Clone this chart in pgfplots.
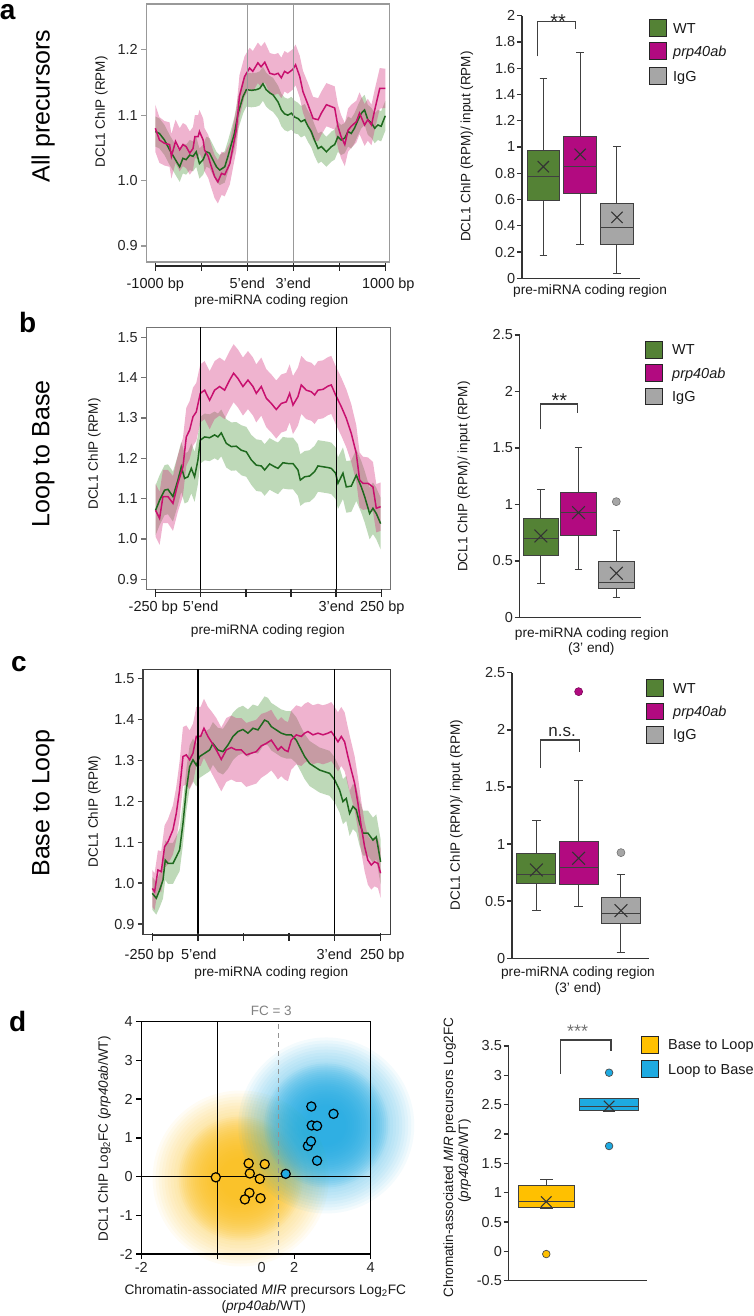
\documentclass[border=0pt]{standalone}
\usepackage{fontspec}
\setmainfont{Liberation Sans}
\usepackage{pgfplots}
\pgfplotsset{compat=1.18}
\usepackage{pgfplotstable}
\usepgfplotslibrary{fillbetween,statistics}

\definecolor{lgreen}{RGB}{30,105,30}
\definecolor{lpink}{RGB}{200,16,110}
\definecolor{bgreen}{RGB}{84,155,69}
\definecolor{bpink}{RGB}{212,55,130}
\definecolor{wt}{RGB}{84,130,53}
\definecolor{prp}{RGB}{178,10,128}
\definecolor{igg}{RGB}{166,166,166}
\definecolor{byel}{RGB}{250,190,30}
\definecolor{bblue}{RGB}{35,170,225}
\definecolor{boxyel}{RGB}{255,192,0}
\definecolor{boxblue}{RGB}{30,170,225}

\newcommand{\fs}[1]{\fontsize{#1}{#1}\selectfont}

\pgfplotsset{
  every axis/.append style={/pgf/number format/assume math mode=true},
  lp/.style={anchor=south west, scale only axis, clip=false, xtick=\empty,
    ytick={0.9,1.0,1.1,1.2,1.3,1.4,1.5}, tick align=outside, major tick length=5pt, tick pos=left,
    yticklabel style={/pgf/number format/.cd, fixed, fixed zerofill, precision=1},
    tick label style={font=\fs{14.5}, text=black!85}},
  bp/.style={anchor=south west, scale only axis, clip=false, axis x line*=bottom, axis y line*=left,
    axis line style={black!80, line width=1.4pt}, xtick=\empty, tick align=outside, major tick length=5pt,
    y tick style={black!80, line width=1.4pt}, tick label style={font=\fs{14.5}, text=black!85},
    yticklabel style={inner sep=1.5pt}, boxplot/draw direction=y},
}

\newcommand{\bandline}[4]{%
 \addplot[draw=none, name path=#4u, forget plot] table[x=x, y expr=\thisrow{y}+\thisrow{e}] {#1};
 \addplot[draw=none, name path=#4l, forget plot] table[x=x, y expr=\thisrow{y}-\thisrow{e}] {#1};
 \addplot[fill=#2, fill opacity=0.38, draw=none, forget plot] fill between[of=#4u and #4l];
 \addplot[#3, line width=1.5pt, forget plot] table[x=x, y=y] {#1};
}
\newcommand{\bx}[8]{%
 \addplot[boxplot prepared={draw position=#1, lower whisker=#2, lower quartile=#3, median=#4, upper quartile=#5, upper whisker=#6, box extend=#7, whisker extend=0.2}, fill=#8, draw=black!75, line width=1pt, forget plot] coordinates {};
}
% soft blob made of stacked translucent discs
\newcommand{\blob}[3]{%
 \pgfplotsinvokeforeach{88,85,82,79,76,73,70,67,64}{\fill[#1, fill opacity=0.05] (axis cs:#2,#3) circle[radius=##1pt];}
 \pgfplotsinvokeforeach{62,60,58,56,54,52,50,48,46,44,42,40,38,36,34,32,30,28,26,24,22,20}{\fill[#1, fill opacity=0.1] (axis cs:#2,#3) circle[radius=##1pt];}
}

% ---------------- data: panel a ----------------
\pgfplotstableread{
x y e
0.00 1.080 0.036
0.09 1.062 0.035
0.20 1.057 0.034
0.31 1.055 0.034
0.35 1.037 0.034
0.44 1.060 0.033
0.53 1.047 0.033
0.60 1.055 0.033
0.67 1.052 0.033
0.75 1.042 0.033
0.82 1.049 0.033
0.86 1.067 0.033
0.93 1.067 0.033
0.96 1.075 0.033
1.04 1.062 0.033
1.07 1.047 0.033
1.15 1.037 0.033
1.22 1.021 0.033
1.29 1.006 0.033
1.36 0.998 0.033
1.44 1.011 0.033
1.51 1.009 0.033
1.62 1.026 0.032
1.69 1.052 0.032
1.76 1.077 0.032
1.83 1.129 0.032
1.94 1.159 0.031
2.05 1.172 0.031
2.12 1.167 0.031
2.23 1.180 0.031
2.30 1.174 0.031
2.38 1.181 0.031
2.49 1.164 0.031
2.59 1.162 0.031
2.67 1.164 0.031
2.74 1.157 0.031
2.81 1.167 0.031
2.88 1.164 0.031
2.99 1.170 0.031
3.05 1.177 0.031
3.14 1.159 0.032
3.21 1.136 0.032
3.32 1.116 0.033
3.43 1.095 0.033
3.54 1.093 0.033
3.61 1.103 0.033
3.72 1.116 0.033
3.83 1.113 0.033
3.90 1.111 0.033
3.97 1.083 0.033
4.04 1.067 0.033
4.12 1.055 0.033
4.19 1.077 0.033
4.26 1.083 0.033
4.37 1.090 0.032
4.44 1.103 0.032
4.55 1.085 0.032
4.62 1.093 0.032
4.70 1.085 0.031
4.77 1.108 0.031
4.88 1.141 0.031
5.00 1.141 0.030
}\tAp
\pgfplotstableread{
x y e
0.00 1.075 0.023
0.09 1.072 0.023
0.20 1.062 0.023
0.31 1.047 0.023
0.42 1.034 0.023
0.53 1.021 0.023
0.60 1.034 0.023
0.67 1.032 0.023
0.75 1.039 0.023
0.82 1.037 0.023
0.89 1.044 0.023
0.96 1.026 0.023
1.04 1.032 0.023
1.11 1.044 0.023
1.18 1.042 0.023
1.25 1.032 0.023
1.33 1.021 0.023
1.40 1.016 0.023
1.51 1.021 0.024
1.58 1.037 0.024
1.65 1.055 0.024
1.72 1.072 0.025
1.80 1.103 0.025
1.91 1.129 0.026
1.98 1.139 0.026
2.09 1.138 0.026
2.20 1.139 0.026
2.27 1.141 0.026
2.34 1.148 0.026
2.41 1.139 0.026
2.49 1.134 0.026
2.56 1.131 0.026
2.67 1.120 0.025
2.74 1.108 0.025
2.81 1.102 0.025
2.88 1.100 0.025
2.96 1.103 0.025
3.03 1.097 0.025
3.10 1.095 0.024
3.17 1.090 0.024
3.25 1.093 0.024
3.32 1.083 0.024
3.39 1.075 0.024
3.46 1.062 0.024
3.54 1.049 0.023
3.61 1.052 0.023
3.72 1.044 0.023
3.83 1.052 0.023
3.90 1.055 0.023
3.97 1.067 0.023
4.04 1.062 0.023
4.12 1.065 0.023
4.19 1.075 0.023
4.26 1.072 0.023
4.33 1.080 0.023
4.41 1.093 0.023
4.48 1.103 0.023
4.55 1.108 0.023
4.62 1.093 0.023
4.70 1.088 0.023
4.77 1.080 0.023
4.84 1.085 0.023
4.91 1.083 0.023
5.00 1.099 0.023
}\tAg
% ---------------- data: panel b ----------------
\pgfplotstableread{
x y e
0.000 1.071 0.066
0.089 1.051 0.066
0.163 1.105 0.066
0.274 1.105 0.066
0.385 1.088 0.068
0.495 1.138 0.070
0.606 1.179 0.072
0.680 1.253 0.072
0.754 1.270 0.072
0.828 1.303 0.072
0.901 1.315 0.072
0.990 1.361 0.072
1.086 1.369 0.072
1.197 1.344 0.072
1.307 1.369 0.072
1.418 1.378 0.072
1.529 1.369 0.072
1.640 1.394 0.072
1.728 1.411 0.072
1.824 1.398 0.072
1.935 1.378 0.072
2.046 1.394 0.072
2.157 1.378 0.072
2.230 1.361 0.072
2.341 1.378 0.072
2.452 1.349 0.072
2.563 1.336 0.072
2.673 1.321 0.072
2.784 1.336 0.072
2.895 1.340 0.072
2.969 1.361 0.072
3.043 1.332 0.072
3.153 1.353 0.072
3.227 1.382 0.072
3.338 1.369 0.072
3.449 1.365 0.072
3.522 1.357 0.072
3.596 1.369 0.072
3.707 1.371 0.072
3.818 1.379 0.072
3.891 1.382 0.072
3.987 1.357 0.072
4.113 1.328 0.072
4.224 1.299 0.072
4.334 1.262 0.072
4.445 1.212 0.070
4.519 1.146 0.068
4.593 1.138 0.066
4.704 1.138 0.064
4.814 1.129 0.062
4.888 1.076 0.060
4.984 1.080 0.060
}\tBp
\pgfplotstableread{
x y e
0.000 1.071 0.062
0.089 1.096 0.062
0.200 1.121 0.062
0.274 1.123 0.062
0.385 1.105 0.062
0.495 1.146 0.062
0.569 1.179 0.062
0.643 1.150 0.062
0.717 1.154 0.062
0.791 1.175 0.062
0.864 1.154 0.062
0.938 1.196 0.060
0.990 1.245 0.058
1.086 1.253 0.058
1.197 1.251 0.058
1.307 1.258 0.058
1.381 1.253 0.058
1.455 1.263 0.058
1.566 1.237 0.060
1.677 1.229 0.060
1.787 1.230 0.060
1.898 1.220 0.062
2.009 1.216 0.062
2.120 1.196 0.062
2.230 1.183 0.064
2.341 1.181 0.064
2.415 1.171 0.064
2.526 1.186 0.064
2.636 1.179 0.064
2.710 1.175 0.064
2.821 1.189 0.064
2.932 1.187 0.064
3.043 1.187 0.064
3.153 1.171 0.064
3.205 1.146 0.064
3.301 1.154 0.064
3.412 1.156 0.064
3.522 1.167 0.064
3.596 1.181 0.064
3.707 1.179 0.064
3.818 1.177 0.064
3.891 1.175 0.064
3.987 1.163 0.064
4.039 1.138 0.064
4.150 1.163 0.064
4.224 1.129 0.064
4.334 1.131 0.064
4.445 1.158 0.064
4.556 1.129 0.064
4.630 1.105 0.064
4.740 1.063 0.064
4.814 1.076 0.064
4.888 1.063 0.064
4.984 1.038 0.064
}\tBg
% ---------------- data: panel c ----------------
\pgfplotstableread{
x y e
0.000 0.987 0.045
0.051 0.979 0.045
0.124 1.032 0.048
0.197 1.028 0.050
0.270 1.089 0.052
0.344 1.101 0.055
0.453 1.130 0.060
0.526 1.170 0.065
0.599 1.227 0.070
0.673 1.309 0.072
0.746 1.313 0.072
0.819 1.301 0.072
0.892 1.317 0.072
0.965 1.358 0.072
1.060 1.358 0.072
1.133 1.378 0.072
1.221 1.358 0.072
1.294 1.345 0.075
1.404 1.325 0.078
1.513 1.302 0.078
1.623 1.325 0.078
1.732 1.331 0.078
1.842 1.325 0.078
1.952 1.325 0.078
2.061 1.313 0.078
2.171 1.317 0.078
2.281 1.321 0.078
2.390 1.335 0.078
2.500 1.341 0.076
2.610 1.349 0.074
2.683 1.337 0.072
2.756 1.325 0.072
2.829 1.333 0.072
2.902 1.325 0.072
2.975 1.321 0.072
3.048 1.349 0.072
3.158 1.362 0.072
3.268 1.358 0.072
3.341 1.366 0.072
3.414 1.370 0.072
3.523 1.362 0.072
3.633 1.366 0.072
3.743 1.362 0.072
3.852 1.366 0.072
3.925 1.370 0.072
3.999 1.358 0.072
4.072 1.345 0.072
4.145 1.358 0.072
4.218 1.345 0.072
4.291 1.309 0.070
4.364 1.276 0.068
4.437 1.244 0.066
4.510 1.195 0.064
4.583 1.138 0.062
4.656 1.089 0.060
4.729 1.056 0.060
4.803 1.044 0.060
4.876 1.052 0.060
4.949 1.048 0.060
5.007 1.024 0.060
}\tCp
\pgfplotstableread{
x y e
0.000 0.975 0.040
0.088 0.963 0.040
0.161 0.983 0.042
0.234 1.007 0.045
0.285 1.056 0.048
0.344 1.048 0.050
0.453 1.048 0.050
0.526 1.064 0.050
0.599 1.081 0.052
0.673 1.146 0.052
0.746 1.227 0.052
0.819 1.284 0.052
0.892 1.301 0.052
0.965 1.288 0.052
1.038 1.309 0.052
1.148 1.317 0.052
1.257 1.325 0.052
1.330 1.341 0.052
1.440 1.325 0.054
1.550 1.321 0.056
1.659 1.337 0.058
1.769 1.358 0.058
1.879 1.370 0.058
1.988 1.375 0.058
2.098 1.366 0.058
2.208 1.378 0.058
2.317 1.374 0.058
2.390 1.386 0.058
2.463 1.398 0.058
2.537 1.394 0.058
2.610 1.382 0.058
2.719 1.374 0.058
2.829 1.366 0.058
2.939 1.362 0.058
3.048 1.362 0.058
3.158 1.349 0.056
3.268 1.325 0.055
3.341 1.309 0.055
3.450 1.292 0.055
3.560 1.284 0.055
3.670 1.276 0.055
3.779 1.272 0.055
3.889 1.268 0.055
3.999 1.252 0.055
4.108 1.227 0.055
4.181 1.199 0.055
4.254 1.207 0.055
4.327 1.170 0.055
4.401 1.187 0.055
4.474 1.179 0.055
4.547 1.146 0.055
4.620 1.122 0.055
4.729 1.122 0.055
4.839 1.105 0.055
4.912 1.113 0.055
5.007 1.052 0.055
}\tCg

\begin{document}
\begin{tikzpicture}
\path (0pt,0pt) rectangle (750pt,1316pt);

% ================= Panel a: line =================
\begin{axis}[lp, at={(145pt,1054pt)}, width=243pt, height=258pt,
  xmin=-0.196, xmax=5.087, ymin=0.8755, ymax=1.270,
  axis line style={gray!80, line width=1.2pt}, y tick style={gray!80, line width=1.2pt}]
 \bandline{\tAg}{bgreen}{lgreen}{ag}
 \bandline{\tAp}{bpink}{lpink}{ap}
 \draw[gray!80, line width=1.3pt] (axis cs:2,0.8755) -- (axis cs:2,1.270);
 \draw[gray!80, line width=1.3pt] (axis cs:3,0.8755) -- (axis cs:3,1.270);
 \draw[black!85, line width=1.5pt] ([yshift=-4pt]axis cs:0,0.8755) -- ([yshift=-4pt]axis cs:5,0.8755);
 \pgfplotsinvokeforeach{0,1,2,3,4,5}{\draw[black!85, line width=1.5pt] ([yshift=-1pt]axis cs:#1,0.8755) -- ([yshift=-9pt]axis cs:#1,0.8755);}
\end{axis}

% ================= Panel b: line =================
\begin{axis}[lp, at={(145pt,726.7pt)}, width=244pt, height=262pt,
  xmin=-0.206, xmax=5.198, ymin=0.875, ymax=1.525,
  axis line style={black!55, line width=1.2pt}, y tick style={black!55, line width=1.2pt}]
 \bandline{\tBg}{bgreen}{lgreen}{bg}
 \bandline{\tBp}{bpink}{lpink}{bp}
 \draw[black, line width=1.3pt] (axis cs:1,0.875) -- (axis cs:1,1.525);
 \draw[black, line width=1.3pt] (axis cs:4,0.875) -- (axis cs:4,1.525);
 \draw[black!85, line width=1.5pt] ([yshift=-3pt]axis cs:0,0.875) -- ([yshift=-3pt]axis cs:5,0.875);
 \pgfplotsinvokeforeach{0,1,2,3,4,5}{\draw[black!85, line width=1.5pt] ([yshift=0pt]axis cs:#1,0.875) -- ([yshift=-8pt]axis cs:#1,0.875);}
\end{axis}

% ================= Panel c: line =================
\begin{axis}[lp, at={(141.7pt,381.7pt)}, width=247.6pt, height=265pt,
  xmin=-0.204, xmax=5.226, ymin=0.875, ymax=1.522,
  axis line style={black!75, line width=1.2pt}, y tick style={black!75, line width=1.2pt}]
 \bandline{\tCg}{bgreen}{lgreen}{cg}
 \bandline{\tCp}{bpink}{lpink}{cp}
 \draw[black, line width=1.3pt] (axis cs:1,0.875) -- (axis cs:1,1.522);
 \draw[black, line width=1.3pt] (axis cs:4,0.875) -- (axis cs:4,1.522);
 \draw[black!85, line width=1.5pt] ([yshift=-1pt]axis cs:0,0.875) -- ([yshift=-1pt]axis cs:5,0.875);
 \pgfplotsinvokeforeach{0,1,2,3,4,5}{\draw[black!85, line width=1.5pt] ([yshift=1pt]axis cs:#1,0.875) -- ([yshift=-7pt]axis cs:#1,0.875);}
\end{axis}

% ================= Panel a: box =================
\begin{axis}[bp, at={(520.7pt,1037.7pt)}, width=118.3pt, height=262.6pt,
  xmin=0.421, xmax=3.633, ymin=0, ymax=2, ytick={0,0.2,0.4,0.6,0.8,1,1.2,1.4,1.6,1.8,2}]
 \bx{1}{0.170}{0.596}{0.774}{0.972}{1.523}{0.886}{wt}
 \bx{2}{0.259}{0.647}{0.850}{1.079}{1.718}{0.886}{prp}
 \bx{3}{0.038}{0.261}{0.388}{0.566}{1.000}{0.886}{igg}
 \addplot[only marks, mark=x, mark size=8pt, black!80, line width=1.1pt] coordinates {(1,0.850) (2,0.944) (3,0.464)};
 \draw[black!75, line width=1.1pt] (axis cs:0.83,1.69) -- (axis cs:0.83,1.954) -- (axis cs:1.87,1.954) -- (axis cs:1.87,1.896);
 \node[anchor=base, inner sep=0, font=\fs{20}, text=black!85] at (axis cs:1.40,1.90) {**};
\end{axis}

% ================= Panel b: box =================
\begin{axis}[bp, at={(518.3pt,698.7pt)}, width=121.7pt, height=282.3pt,
  xmin=0.438, xmax=3.662, ymin=0, ymax=2.5, ytick={0,0.5,1,1.5,2,2.5}]
 \bx{1}{0.301}{0.543}{0.697}{0.877}{1.134}{0.94}{wt}
 \bx{2}{0.425}{0.723}{0.930}{1.101}{1.508}{0.94}{prp}
 \bx{3}{0.177}{0.251}{0.310}{0.493}{0.765}{0.94}{igg}
 \addplot[only marks, mark=*, mark size=4pt, mark options={fill=igg, draw=igg!70!black, line width=0.6pt}] coordinates {(3,1.024)};
 \addplot[only marks, mark=x, mark size=9pt, black!80, line width=1.1pt] coordinates {(1,0.720) (2,0.927) (3,0.390)};
 \draw[black!75, line width=1.1pt] (axis cs:0.99,1.665) -- (axis cs:0.99,1.889) -- (axis cs:1.98,1.889) -- (axis cs:1.98,1.807);
 \node[anchor=base, inner sep=0, font=\fs{20}, text=black!85] at (axis cs:1.49,1.857) {**};
\end{axis}

% ================= Panel c: box =================
\begin{axis}[bp, at={(510.7pt,357.7pt)}, width=137pt, height=285.6pt,
  xmin=0.426, xmax=3.662, ymin=0, ymax=2.5, ytick={0,0.5,1,1.5,2,2.5}]
 \bx{1}{0.417}{0.653}{0.735}{0.913}{1.210}{0.92}{wt}
 \bx{2}{0.452}{0.642}{0.799}{1.018}{1.555}{0.92}{prp}
 \bx{3}{0.050}{0.306}{0.394}{0.528}{0.735}{0.92}{igg}
 \addplot[only marks, mark=*, mark size=4pt, mark options={fill=prp, draw=prp!70!black, line width=0.6pt}] coordinates {(2,2.334)};
 \addplot[only marks, mark=*, mark size=4pt, mark options={fill=igg, draw=igg!70!black, line width=0.6pt}] coordinates {(3,0.925)};
 \addplot[only marks, mark=x, mark size=9pt, black!80, line width=1.1pt] coordinates {(1,0.773) (2,0.875) (3,0.417)};
 \draw[black!75, line width=1.1pt] (axis cs:1.10,1.668) -- (axis cs:1.10,1.911) -- (axis cs:2.02,1.911) -- (axis cs:2.02,1.808);
 \node[anchor=base, inner sep=0, font=\fs{17}, text=black!85] at (axis cs:1.61,1.94) {n.s.};
\end{axis}

% ================= Panel d: scatter =================
\begin{axis}[anchor=south west, scale only axis, at={(140pt,62pt)}, width=229.3pt, height=232.3pt,
  xmin=-2, xmax=4, ymin=-2, ymax=4, clip=false, axis on top,
  axis line style={black, line width=1.3pt}, tick align=outside, major tick length=5pt, tick pos=left,
  tick style={black, line width=1.3pt},
  xtick={-2,0,2,4}, xticklabels={-2,,2,4}, extra x ticks={1.15}, extra x tick labels={0},
  extra x tick style={tick style={draw=none}},
  ytick={-2,-1,0,1,2,3,4}, tick label style={font=\fs{14.5}, text=black!85}]
 \blob{byel}{0.60}{-0.05}
 \blob{bblue}{2.84}{1.32}
 \draw[black, line width=1.3pt] (axis cs:0,-2) -- (axis cs:0,4);
 \draw[black, line width=1.3pt] (axis cs:-2,0) -- (axis cs:4,0);
 \draw[gray!85, line width=1.3pt, dash pattern=on 5pt off 4pt] (axis cs:1.585,-2) -- (axis cs:1.585,4);
 \addplot[only marks, mark=*, mark size=4.6pt, mark options={fill=byel, draw=black, line width=1.2pt}]
   coordinates {(-0.05,-0.02) (0.81,0.34) (1.23,0.32) (0.84,0.08) (1.10,-0.06) (0.83,-0.42) (0.71,-0.59) (1.12,-0.56)};
 \addplot[only marks, mark=*, mark size=4.6pt, mark options={fill=bblue, draw=black, line width=1.2pt}]
   coordinates {(1.78,0.07) (2.45,1.81) (3.03,1.62) (2.46,1.32) (2.60,1.31) (2.36,0.79) (2.44,0.91) (2.60,0.41)};
\end{axis}

% ================= Panel d: box =================
\begin{axis}[bp, at={(507.3pt,35.3pt)}, width=138.7pt, height=234.7pt,
  xmin=0.4, xmax=2.608, ymin=-0.5, ymax=3.5, ytick={-0.5,0,0.5,1,1.5,2,2.5,3,3.5}]
 \bx{1}{0.730}{0.750}{0.858}{1.131}{1.233}{0.90}{boxyel}
 \bx{2}{2.380}{2.398}{2.466}{2.608}{2.608}{0.94}{boxblue}
 \addplot[only marks, mark=*, mark size=3.8pt, mark options={fill=boxyel, draw=black!70, line width=0.7pt}] coordinates {(1,-0.046)};
 \addplot[only marks, mark=*, mark size=3.8pt, mark options={fill=boxblue, draw=black!70, line width=0.7pt}] coordinates {(2,3.045) (2,1.795)};
 \addplot[only marks, mark=x, mark size=7.5pt, black!80, line width=1.1pt] coordinates {(1,0.847) (2,2.477)};
 \draw[black!75, line width=1.1pt] (axis cs:1.23,3.023) -- (axis cs:1.23,3.602) -- (axis cs:2.03,3.602) -- (axis cs:2.03,3.42);
 \node[anchor=base, inner sep=0, font=\fs{18}, text=black!55] at (axis cs:1.5,3.64) {***};
\end{axis}

% ================= texts =================
\begin{scope}[every node/.style={inner sep=0, text=black!90}]
 \node[font=\fs{28}\bfseries, text=black] at (6.5pt,1303.5pt) {a};
 \node[font=\fs{28}\bfseries, text=black] at (26.5pt,993.5pt) {b};
 \node[font=\fs{28}\bfseries, text=black] at (17.5pt,651.5pt) {c};
 \node[font=\fs{28}\bfseries, text=black] at (16.5pt,295pt) {d};
 \node[font=\fs{25}, rotate=90, text=black] at (42pt,1210pt) {All precursors};
 \node[font=\fs{25}, rotate=90, text=black] at (42pt,862pt) {Loop to Base};
 \node[font=\fs{25}, rotate=90, text=black] at (42pt,513pt) {Base to Loop};
 \node[font=\fs{13.5}, rotate=90] at (100pt,1204pt) {DCL1 ChIP (RPM)};
 \node[font=\fs{13.5}, rotate=90] at (93pt,862pt) {DCL1 ChIP (RPM)};
 \node[font=\fs{13.5}, rotate=90] at (93pt,504.5pt) {DCL1 ChIP (RPM)};
 \begin{scope}[every node/.append style={font=\fs{14.5}, anchor=base}]
 \node at (154pt,1027.5pt) {-1000 bp}; \node at (246pt,1027.5pt) {5’end}; \node at (292pt,1027.5pt) {3’end}; \node at (387pt,1027.5pt) {1000 bp};
 \node at (152pt,704.3pt) {-250 bp}; \node at (199.3pt,704.3pt) {5’end}; \node at (335pt,704.3pt) {3’end}; \node at (381pt,704.3pt) {250 bp};
 \node at (148pt,356pt) {-250 bp}; \node at (197.5pt,356pt) {5’end}; \node at (333pt,356pt) {3’end}; \node at (381pt,356pt) {250 bp};
 \end{scope}
 \node[font=\fs{13.7}] at (270pt,1015.5pt) {pre-miRNA coding region};
 \node[font=\fs{13.7}] at (266.5pt,685.5pt) {pre-miRNA coding region};
 \node[font=\fs{13.7}] at (270pt,343pt) {pre-miRNA coding region};
 \node[font=\fs{13.5}, rotate=90] at (465.5pt,1169.3pt) {DCL1 ChIP (RPM)/ input (RPM)};
 \node[font=\fs{13.5}, rotate=90] at (462.5pt,839.3pt) {DCL1 ChIP (RPM)/ input (RPM)};
 \node[font=\fs{13.5}, rotate=90] at (455pt,501pt) {DCL1 ChIP (RPM)/ input (RPM)};
 \node[font=\fs{13.7}] at (588.8pt,1025pt) {pre-miRNA coding region};
 \node[font=\fs{13.7}] at (590.5pt,682pt) {pre-miRNA coding region};
 \node[font=\fs{13.7}] at (590pt,667pt) {(3’ end)};
 \node[font=\fs{13.7}] at (576.7pt,343pt) {pre-miRNA coding region};
 \node[font=\fs{13.7}] at (576.7pt,327.5pt) {(3’ end)};
 \begin{scope}[every node/.append style={font=\fs{14.5}, anchor=base west}]
 \draw[fill=wt, draw=black!85, line width=1pt] (648pt,1296pt) rectangle (665pt,1279pt);
 \draw[fill=prp, draw=black!85, line width=1pt] (648pt,1273pt) rectangle (665pt,1256pt);
 \draw[fill=igg, draw=black!85, line width=1pt] (648pt,1248pt) rectangle (665pt,1231pt);
 \node at (671.7pt,1282.5pt) {WT}; \node at (671.7pt,1259.5pt) {\itshape prp40ab}; \node at (671.7pt,1234.5pt) {IgG};
 \draw[fill=wt, draw=black!85, line width=1pt] (644pt,974.3pt) rectangle (661pt,957.7pt);
 \draw[fill=prp, draw=black!85, line width=1pt] (644pt,951pt) rectangle (661pt,934.3pt);
 \draw[fill=igg, draw=black!85, line width=1pt] (644pt,927.7pt) rectangle (661pt,911pt);
 \node at (670.7pt,961pt) {WT}; \node at (670.7pt,937.7pt) {\itshape prp40ab}; \node at (670.7pt,914.3pt) {IgG};
 \draw[fill=wt, draw=black!85, line width=1pt] (645pt,636pt) rectangle (662.3pt,619.3pt);
 \draw[fill=prp, draw=black!85, line width=1pt] (645pt,612.7pt) rectangle (662.3pt,596pt);
 \draw[fill=igg, draw=black!85, line width=1pt] (645pt,589.3pt) rectangle (662.3pt,572.7pt);
 \node at (671.7pt,622.7pt) {WT}; \node at (671.7pt,599.3pt) {\itshape prp40ab}; \node at (671.7pt,576pt) {IgG};
 \draw[fill=boxyel, draw=black!85, line width=1pt] (640.7pt,279.3pt) rectangle (657.7pt,262.7pt);
 \draw[fill=boxblue, draw=black!85, line width=1pt] (640.7pt,255pt) rectangle (657.7pt,238.3pt);
 \node at (666.7pt,266pt) {Base to Loop}; \node at (666.7pt,241.7pt) {Loop to Base};
 \end{scope}
 \node[font=\fs{13.5}, rotate=90] at (103pt,177pt) {DCL1 ChIP Log\textsubscript{2}FC (\textit{prp40ab}/WT)};
 \node[font=\fs{13.7}] at (264pt,25pt) {Chromatin-associated \textit{MIR} precursors Log\textsubscript{2}FC};
 \node[font=\fs{13.7}] at (262.5pt,9.5pt) {(\textit{prp40ab}/WT)};
 \node[font=\fs{13.5}, text=gray] at (270pt,305pt) {FC = 3};
 \node[font=\fs{13.5}, rotate=90] at (448.3pt,158.5pt) {Chromatin-associated \textit{MIR} precursors Log2FC};
 \node[font=\fs{13.5}, rotate=90] at (463.3pt,155pt) {(\textit{prp40ab}/WT)};
\end{scope}
\end{tikzpicture}
\end{document}
